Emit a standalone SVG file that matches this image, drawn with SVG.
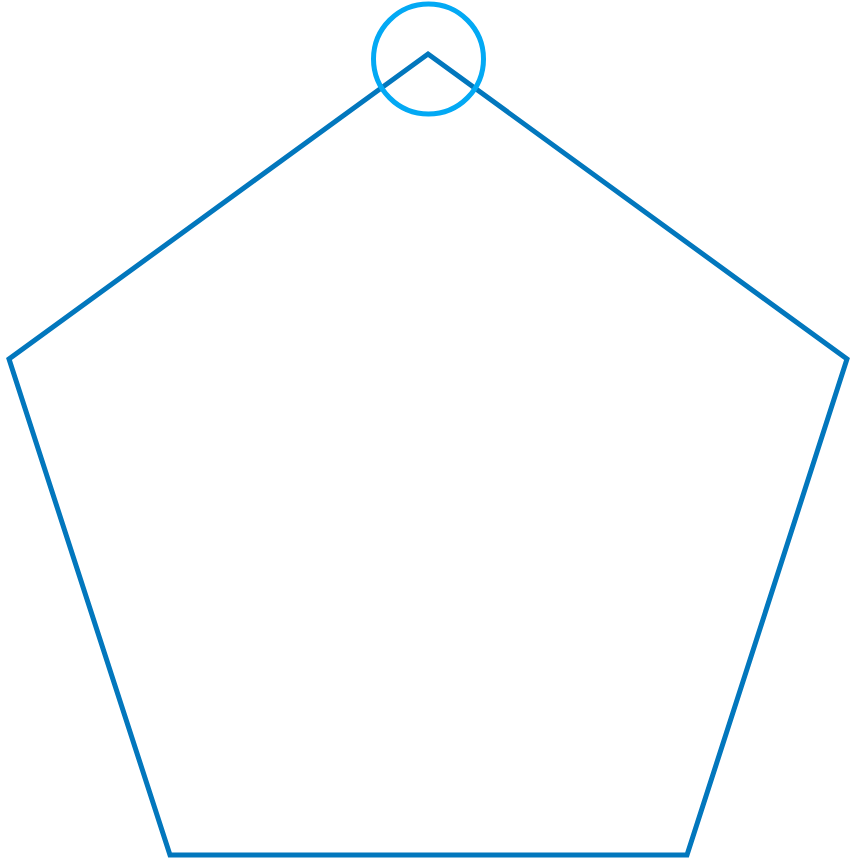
<svg xmlns="http://www.w3.org/2000/svg" width="850" height="865" viewBox="0 0 850 865">
<style>
.pent{fill:none;stroke:#0277BD;stroke-width:5;stroke-linejoin:miter}
.ring{fill:none;stroke:#03A9F4;stroke-width:5}
</style>
<rect width="850" height="865" fill="#ffffff"/>
<g id="pentagon"><polygon class="pent" points="428,54 847,359 687,855 170,855 9,359"/></g>
<g id="marker-circle"><circle class="ring" cx="428.5" cy="59" r="55"/></g>
<g id="connectors"></g>
</svg>
